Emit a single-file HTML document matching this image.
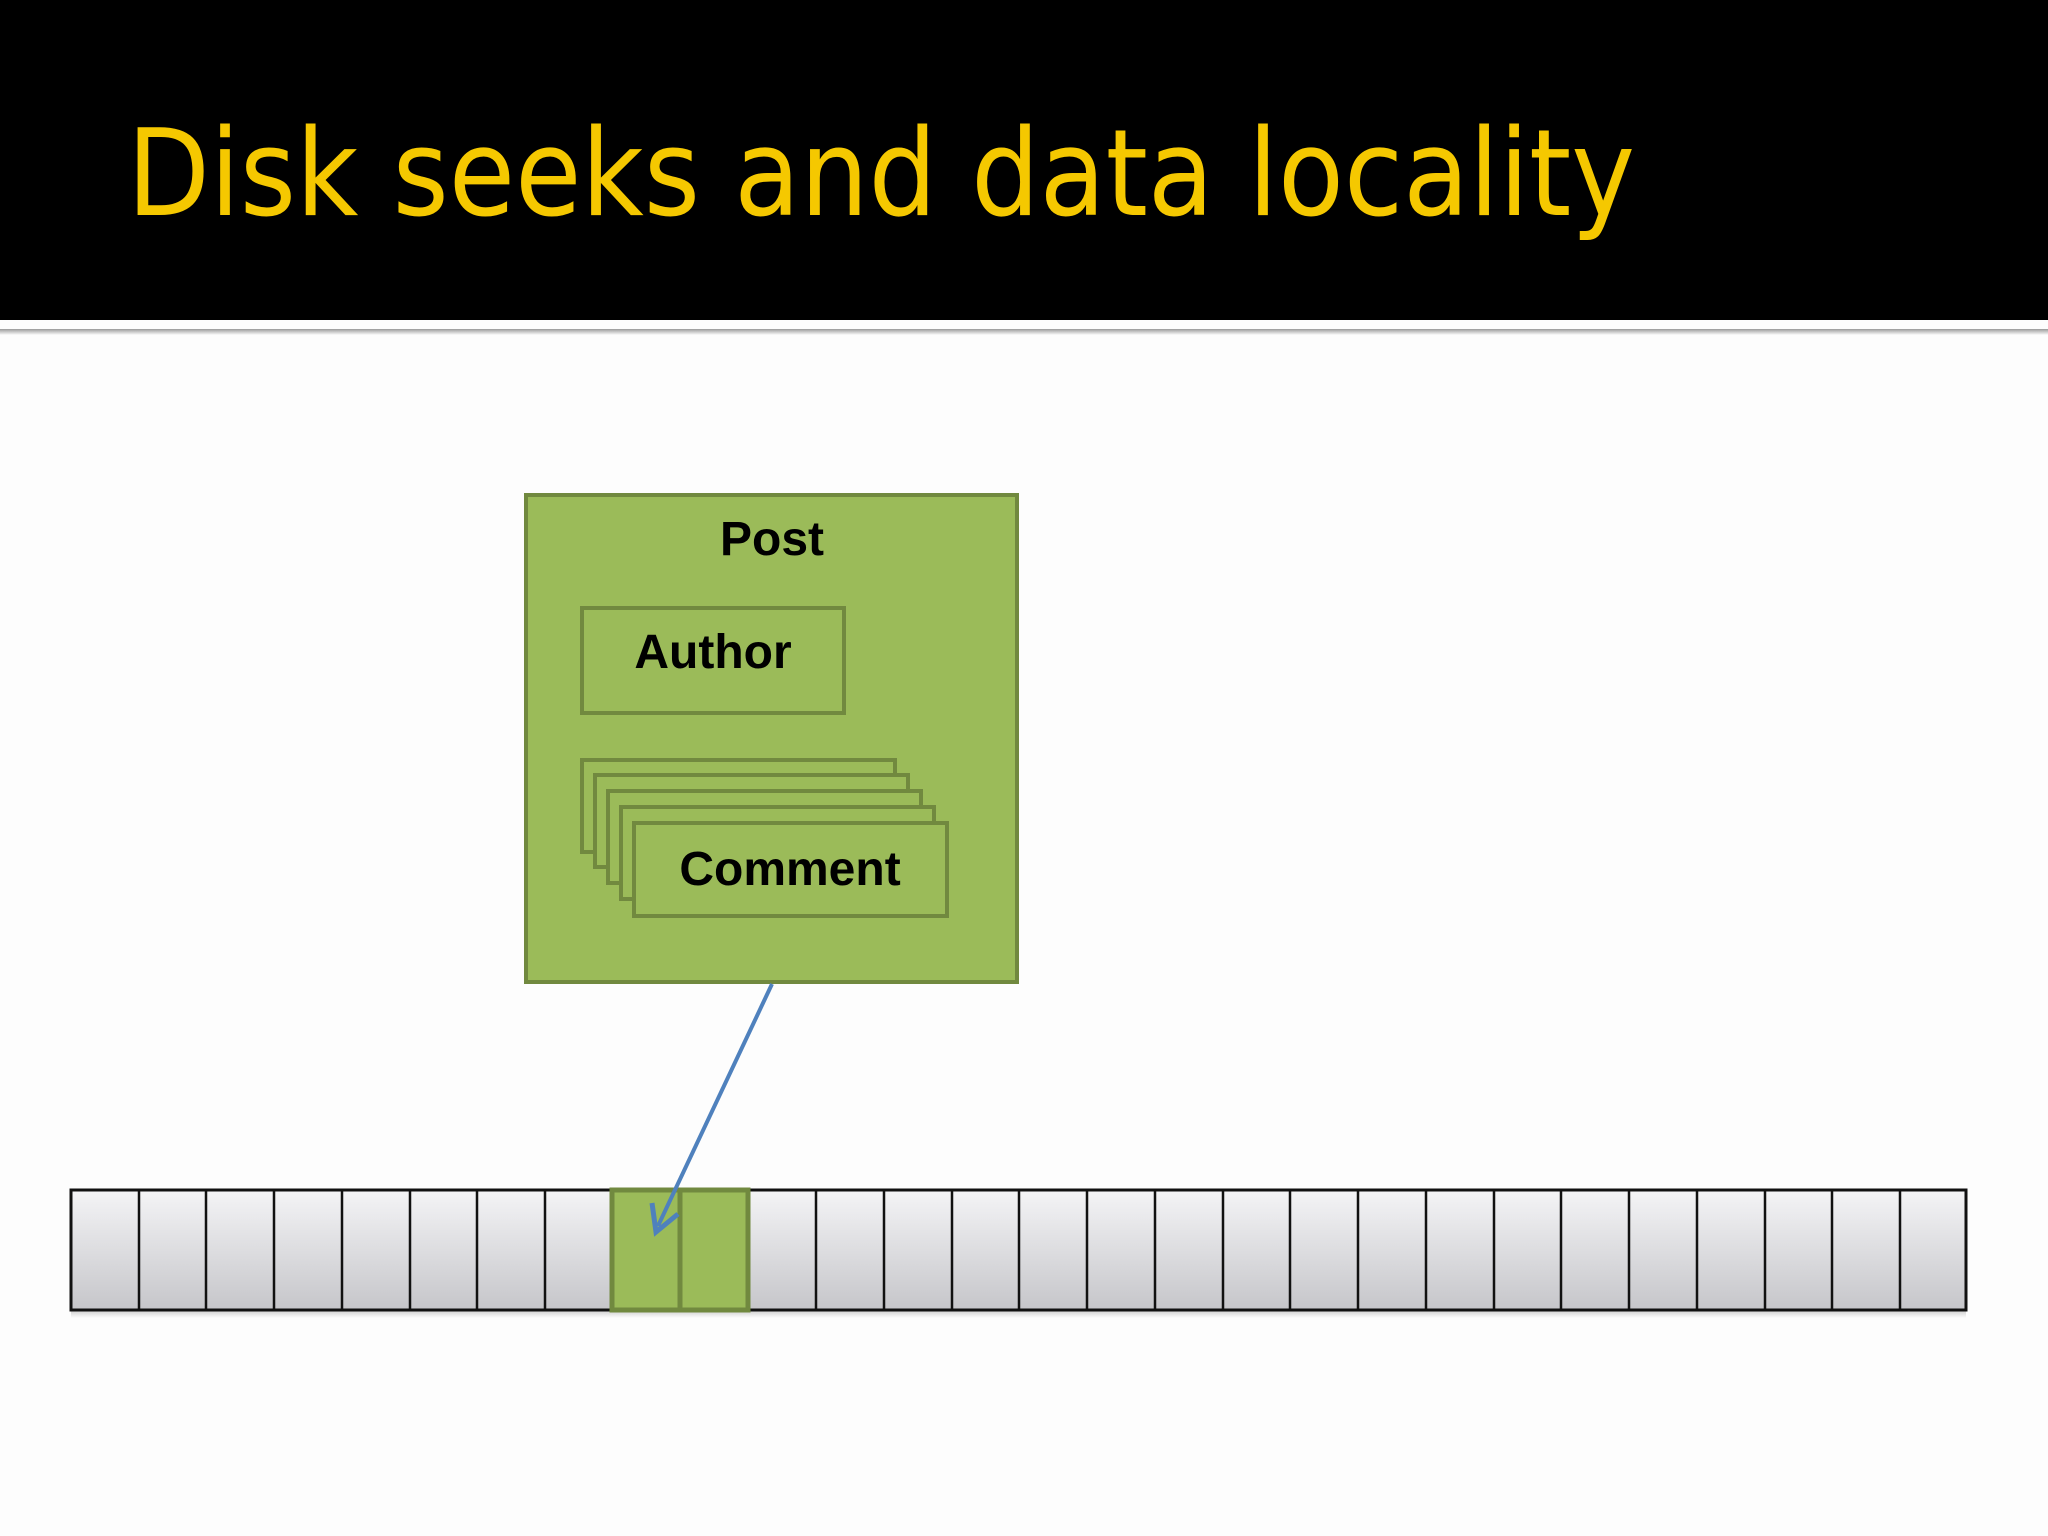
<!DOCTYPE html>
<html><head><style>
body{margin:0;width:2048px;height:1536px;background:#fdfdfd;overflow:hidden;font-family:"Liberation Sans",sans-serif}
</style></head><body>
<svg width="2048" height="1536" xmlns="http://www.w3.org/2000/svg" style="position:absolute;left:0;top:0">
<defs>
<linearGradient id="g" x1="0" y1="0" x2="0" y2="1"><stop offset="0" stop-color="#f4f4f6"/><stop offset="1" stop-color="#c6c6ca"/></linearGradient>
<linearGradient id="sh" x1="0" y1="0" x2="0" y2="1"><stop offset="0" stop-color="#9a9a9a"/><stop offset="1" stop-color="#fdfdfd"/></linearGradient>
</defs>
<rect x="0" y="0" width="2048" height="320" fill="#000"/>
<rect x="0" y="329" width="2048" height="6" fill="url(#sh)"/>
<text x="127" y="215" font-family="DejaVu Sans Condensed, Liberation Sans, sans-serif" font-size="120" fill="#f5c800" textLength="1508" lengthAdjust="spacingAndGlyphs">Disk seeks and data locality</text>
<rect x="71" y="1310" width="1895" height="8" fill="url(#sh)" opacity="0.5"/>
<g stroke="#111" stroke-width="3">
<rect x="71" y="1190" width="1895" height="120" fill="url(#g)"/>
</g>
<g stroke="#111" stroke-width="2.5" id="cells"></g>
<g stroke="#111" stroke-width="2.5">
<line x1="139" y1="1190" x2="139" y2="1310"/><line x1="206" y1="1190" x2="206" y2="1310"/><line x1="274" y1="1190" x2="274" y2="1310"/><line x1="342" y1="1190" x2="342" y2="1310"/><line x1="410" y1="1190" x2="410" y2="1310"/><line x1="477" y1="1190" x2="477" y2="1310"/><line x1="545" y1="1190" x2="545" y2="1310"/>
<line x1="816" y1="1190" x2="816" y2="1310"/><line x1="884" y1="1190" x2="884" y2="1310"/><line x1="952" y1="1190" x2="952" y2="1310"/><line x1="1019" y1="1190" x2="1019" y2="1310"/><line x1="1087" y1="1190" x2="1087" y2="1310"/><line x1="1155" y1="1190" x2="1155" y2="1310"/><line x1="1223" y1="1190" x2="1223" y2="1310"/><line x1="1290" y1="1190" x2="1290" y2="1310"/><line x1="1358" y1="1190" x2="1358" y2="1310"/><line x1="1426" y1="1190" x2="1426" y2="1310"/><line x1="1494" y1="1190" x2="1494" y2="1310"/><line x1="1561" y1="1190" x2="1561" y2="1310"/><line x1="1629" y1="1190" x2="1629" y2="1310"/><line x1="1697" y1="1190" x2="1697" y2="1310"/><line x1="1765" y1="1190" x2="1765" y2="1310"/><line x1="1832" y1="1190" x2="1832" y2="1310"/><line x1="1900" y1="1190" x2="1900" y2="1310"/>
</g>
<g fill="#9bbb59" stroke="#71893f" stroke-width="5">
<rect x="612" y="1190" width="68" height="120"/>
<rect x="680" y="1190" width="68" height="120"/>
</g>
<g fill="#9bbb59" stroke="#71893f" stroke-width="4">
<rect x="526" y="495" width="491" height="487"/>
<rect x="582" y="608" width="262" height="105"/>
<rect x="582" y="760" width="313" height="92"/>
<rect x="595" y="775" width="313" height="92"/>
<rect x="608" y="791" width="313" height="92"/>
<rect x="621" y="807" width="313" height="92"/>
<rect x="634" y="823" width="313" height="93"/>
</g>
<g font-family="Liberation Sans, sans-serif" font-weight="bold" font-size="48" fill="#000" text-anchor="middle">
<text x="772" y="555">Post</text>
<text x="713" y="668">Author</text>
<text x="790" y="885">Comment</text>
</g>
<line x1="772" y1="984" x2="658" y2="1226" stroke="#4f81bd" stroke-width="4"/>
<path d="M652 1203 L656 1232 L678 1214" fill="none" stroke="#4f81bd" stroke-width="5" stroke-linejoin="miter"/>
</svg>
</body></html>
